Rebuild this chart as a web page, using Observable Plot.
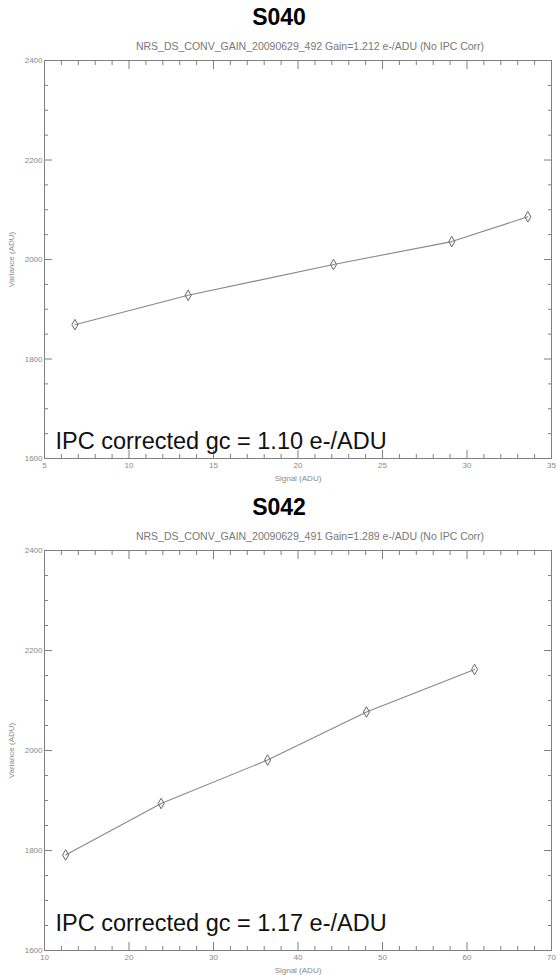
<!DOCTYPE html>
<html>
<head>
<meta charset="utf-8">
<script src="https://cdn.jsdelivr.net/npm/d3@7"></script>
<script src="https://cdn.jsdelivr.net/npm/@observablehq/plot@0.6"></script>
<style>
  html, body { margin: 0; padding: 0; background: #fff; }
  body { width: 558px; height: 975px; overflow: hidden; font-family: "Liberation Sans", Arial, sans-serif; }
  .ttl { height: 34px; line-height: 34px; text-align: center; font-weight: bold; font-size: 23px; color: #000; }
  .sub { height: 22px; line-height: 24px; font-size: 10.5px; color: #777; padding-left: 62px; text-align: center; white-space: nowrap; }
  svg { display: block; }
</style>
</head>
<body>
<div id="root"></div>
<script>
// ---- Panel S040 ----
const titleA = "S040";
const subtitleA = "NRS_DS_CONV_GAIN_20090629_492  Gain=1.212 e-/ADU (No IPC Corr)";
const noteA = "IPC corrected gc = 1.10 e-/ADU";
const signalA = [6.8, 13.5, 22.1, 29.1, 33.6];
const varianceA = [1869, 1928, 1990, 2036, 2086];
const xTicksA = [5, 10, 15, 20, 25, 30, 35];
const yTicksA = [1600, 1800, 2000, 2200, 2400];

// ---- Panel S042 ----
const titleB = "S042";
const subtitleB = "NRS_DS_CONV_GAIN_20090629_491  Gain=1.289 e-/ADU (No IPC Corr)";
const noteB = "IPC corrected gc = 1.17 e-/ADU";
const signalB = [12.5, 23.8, 36.4, 48.1, 60.9];
const varianceB = [1791, 1894, 1981, 2077, 2162];
const xTicksB = [10, 20, 30, 40, 50, 60, 70];
const yTicksB = [1600, 1800, 2000, 2200, 2400];

const xLabel = "Signal (ADU)";
const yLabel = "Variance (ADU)";

function minor(ticks, n) {
  const out = [];
  for (let i = 0; i < ticks.length - 1; i++) {
    const step = (ticks[i + 1] - ticks[i]) / n;
    for (let k = 1; k < n; k++) out.push(ticks[i] + k * step);
  }
  return out;
}

function panel(signal, variance, xTicks, yTicks, note, height, marginTop, marginBottom, noteDy) {
  const data = signal.map((s, i) => ({s, v: variance[i]}));
  const gray = "#808080";
  const xMin = minor(xTicks, 5), yMin = minor(yTicks, 4);
  const fmt = d3.format("d");
  return Plot.plot({
    width: 558, height, marginLeft: 44, marginRight: 7, marginTop, marginBottom,
    style: {fontFamily: "Liberation Sans, Arial, sans-serif", fontSize: "8px", color: "#888", background: "#fff"},
    x: {domain: [xTicks[0], xTicks[xTicks.length - 1]]},
    y: {domain: [yTicks[0], yTicks[yTicks.length - 1]]},
    marks: [
      Plot.frame({stroke: gray, strokeWidth: 1}),
      Plot.axisX(xTicks, {anchor: "bottom", tickSize: -8, stroke: gray, fill: "#888", tickPadding: 12, tickFormat: fmt, label: xLabel, labelAnchor: "center", labelArrow: "none", labelOffset: 22}),
      Plot.axisX(xTicks, {anchor: "top", tickSize: -8, stroke: gray, text: null, label: null}),
      Plot.axisX(xMin, {anchor: "bottom", tickSize: -4, stroke: gray, text: null, label: null}),
      Plot.axisX(xMin, {anchor: "top", tickSize: -4, stroke: gray, text: null, label: null}),
      Plot.axisY(yTicks, {anchor: "left", tickSize: -8, stroke: gray, fill: "#888", tickPadding: 10, tickFormat: fmt, label: yLabel, labelAnchor: "center", labelArrow: "none", labelOffset: 36}),
      Plot.axisY(yTicks, {anchor: "right", tickSize: -8, stroke: gray, text: null, label: null}),
      Plot.axisY(yMin, {anchor: "left", tickSize: -4, stroke: gray, text: null, label: null}),
      Plot.axisY(yMin, {anchor: "right", tickSize: -4, stroke: gray, text: null, label: null}),
      Plot.line(data, {x: "s", y: "v", stroke: "#888", strokeWidth: 1.1}),
      Plot.dot(data, {x: "s", y: "v", symbol: "diamond", r: 3.2, stroke: "#666", strokeWidth: 1, fill: "none"}),
      Plot.text([note], {frameAnchor: "bottom-left", text: d => d, dx: 11, dy: noteDy, fontSize: 23.5, fill: "#111", textAnchor: "start", lineAnchor: "bottom"})
    ]
  });
}

const root = document.getElementById("root");
function addDiv(cls, text) { const d = document.createElement("div"); d.className = cls; d.textContent = text; root.appendChild(d); }

addDiv("ttl", titleA);
addDiv("sub", subtitleA);
root.appendChild(panel(signalA, varianceA, xTicksA, yTicksA, noteA, 434, 4, 32, -10));
addDiv("ttl", titleB);
addDiv("sub", subtitleB);
root.appendChild(panel(signalB, varianceB, xTicksB, yTicksB, noteB, 429, 4, 25, -20));
</script>
</body>
</html>
